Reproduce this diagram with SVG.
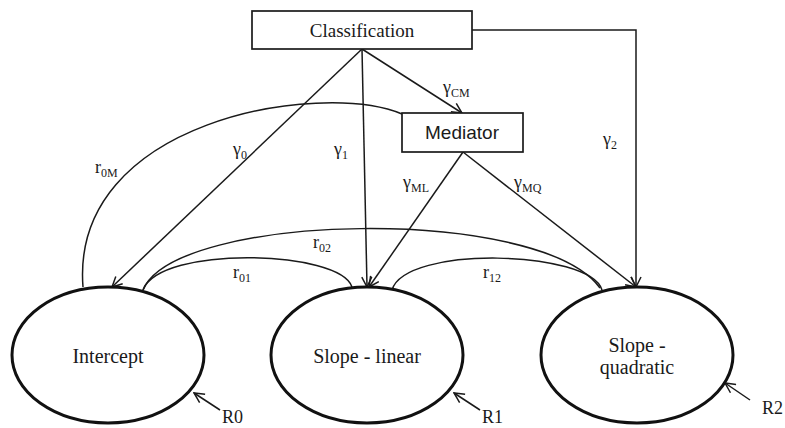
<svg xmlns="http://www.w3.org/2000/svg" width="785" height="428" viewBox="0 0 785 428">
<defs>
<marker id="arr" viewBox="0 0 12 12" refX="11" refY="6" markerWidth="12" markerHeight="12" markerUnits="userSpaceOnUse" orient="auto">
<path d="M1,1 L11,6 L1,11" fill="none" stroke="#1a1a1a" stroke-width="1.5"/>
</marker>
<style>
.ln{fill:none;stroke:#1a1a1a;stroke-width:1.5}
.box{fill:#fff;stroke:#1a1a1a;stroke-width:1.7}
.ell{fill:#fff;stroke:#111;stroke-width:3}
text{fill:#1a1a1a}
.sub{font-size:12px}
</style>
</defs>
<g id="connectors">
<path class="ln" d="M83,287 C70,120 320,80 402,114"/>
<path class="ln" d="M143,290 C175,212 540,205 600,288"/>
<path class="ln" d="M143,290 C160,245 340,250 352,287"/>
<path class="ln" d="M392,290 C405,245 590,250 602,290"/>
<line class="ln" x1="362" y1="49" x2="112" y2="287" marker-end="url(#arr)"/>
<line class="ln" x1="362" y1="49" x2="367" y2="287" marker-end="url(#arr)"/>
<line class="ln" x1="362" y1="49" x2="462" y2="113" marker-end="url(#arr)"/>
<line class="ln" x1="463" y1="152" x2="369" y2="287" marker-end="url(#arr)"/>
<line class="ln" x1="463" y1="152" x2="636" y2="287" marker-end="url(#arr)"/>
<path class="ln" d="M472,30 L636,30 L636,287" marker-end="url(#arr)"/>
<line class="ln" x1="220" y1="410" x2="194" y2="393" marker-end="url(#arr)"/>
<line class="ln" x1="480" y1="410" x2="454" y2="393" marker-end="url(#arr)"/>
<line class="ln" x1="750" y1="400" x2="725" y2="383" marker-end="url(#arr)"/>
<g font-family="Liberation Serif, DejaVu Serif, serif" font-size="18">
<text x="95" y="173">r<tspan class="sub" dy="4">0M</tspan></text>
<text x="233" y="155">γ<tspan class="sub" dy="4">0</tspan></text>
<text x="334" y="155">γ<tspan class="sub" dy="4">1</tspan></text>
<text x="443" y="93">γ<tspan class="sub" dy="4">CM</tspan></text>
<text x="403" y="188">γ<tspan class="sub" dy="4">ML</tspan></text>
<text x="514" y="188">γ<tspan class="sub" dy="4">MQ</tspan></text>
<text x="603" y="145">γ<tspan class="sub" dy="4">2</tspan></text>
<text x="313" y="248">r<tspan class="sub" dy="4">02</tspan></text>
<text x="233" y="278">r<tspan class="sub" dy="4">01</tspan></text>
<text x="483" y="278">r<tspan class="sub" dy="4">12</tspan></text>
<text x="222" y="423">R0</text>
<text x="482" y="423">R1</text>
<text x="762" y="414">R2</text>
</g>
</g>
<g id="classification">
<rect class="box" x="252" y="11" width="220" height="38"/>
<text x="362" y="37" font-family="Liberation Serif, DejaVu Serif, serif" font-size="19" text-anchor="middle">Classification</text>
</g>
<g id="mediator">
<rect class="box" x="402" y="113" width="121" height="39"/>
<text x="462" y="139" font-family="Liberation Sans, Arial, sans-serif" font-size="19" text-anchor="middle">Mediator</text>
</g>
<g id="intercept">
<ellipse class="ell" cx="108" cy="355" rx="96" ry="68"/>
<text x="108" y="363" font-family="Liberation Serif, DejaVu Serif, serif" font-size="20" text-anchor="middle">Intercept</text>
</g>
<g id="slope-linear">
<ellipse class="ell" cx="367" cy="355" rx="96" ry="68"/>
<text x="367" y="363" font-family="Liberation Serif, DejaVu Serif, serif" font-size="20" text-anchor="middle">Slope - linear</text>
</g>
<g id="slope-quadratic">
<ellipse class="ell" cx="637" cy="355" rx="96" ry="68"/>
<text x="637" y="352" font-family="Liberation Serif, DejaVu Serif, serif" font-size="20" text-anchor="middle">Slope -</text>
<text x="637" y="374" font-family="Liberation Serif, DejaVu Serif, serif" font-size="20" text-anchor="middle">quadratic</text>
</g>
</svg>
